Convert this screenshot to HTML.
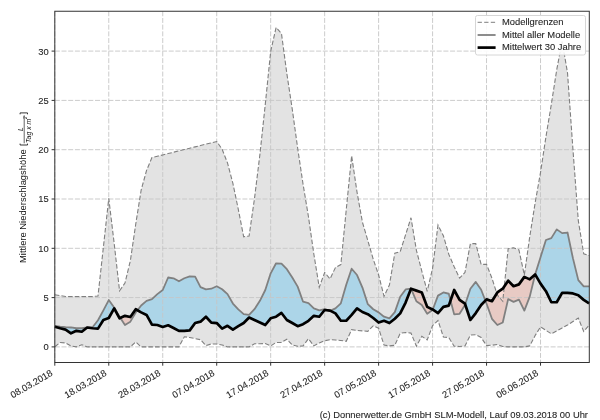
<!DOCTYPE html><html><head><meta charset="utf-8"><style>html,body{margin:0;padding:0;background:#fff;width:600px;height:420px;overflow:hidden}svg{display:block;will-change:transform}</style></head><body><svg width="600" height="420" viewBox="0 0 600 420">
<rect width="600" height="420" fill="#fff"/>
<polygon points="54.80,294.74 60.20,295.63 65.59,296.52 70.99,296.52 76.39,296.52 81.78,296.52 87.18,296.52 92.58,296.52 97.98,296.02 103.37,247.31 108.77,198.41 114.17,243.37 119.56,290.80 124.96,283.01 130.36,260.72 135.75,224.04 141.15,190.13 146.55,170.41 151.95,157.59 157.34,156.25 162.74,154.91 168.14,153.57 173.53,152.23 178.93,150.89 184.33,149.55 189.73,148.21 195.12,146.87 200.52,145.53 205.92,144.19 211.31,142.86 216.71,141.52 222.11,149.21 227.50,162.91 232.90,183.42 238.30,209.35 243.69,236.76 249.09,235.97 254.49,198.51 259.89,154.63 265.28,104.34 270.68,51.40 276.08,27.44 281.47,33.55 286.87,73.78 292.27,109.27 297.67,148.22 303.06,184.21 308.46,216.75 313.86,254.22 319.25,287.25 324.65,272.46 330.05,278.87 335.44,267.53 340.84,264.57 346.24,209.85 351.64,155.81 357.03,192.20 362.43,222.27 367.83,240.51 373.22,259.15 378.62,275.02 384.02,296.32 389.41,284.98 394.81,253.23 400.21,251.65 405.61,234.69 411.00,217.73 416.40,250.27 421.80,271.18 427.19,291.29 432.59,268.32 437.99,225.03 443.38,235.78 448.78,254.22 454.18,266.74 459.58,278.08 464.97,272.46 470.37,243.67 475.77,243.67 481.16,264.37 486.56,264.37 491.96,278.18 497.35,295.04 502.75,301.25 508.15,248.79 513.54,247.81 518.94,249.98 524.34,275.02 529.74,236.76 535.13,202.94 540.53,172.38 545.93,136.88 551.32,104.34 556.72,69.83 562.12,41.24 567.51,72.79 572.91,149.01 578.31,220.69 583.71,253.72 589.10,255.60 589.10,325.11 583.71,331.52 578.31,318.11 572.91,321.56 567.51,325.11 562.12,327.97 556.72,330.93 551.32,333.79 545.93,330.34 540.53,326.79 535.13,335.56 529.74,345.91 524.34,346.90 518.94,346.90 513.54,346.90 508.15,346.90 502.75,346.51 497.35,344.44 491.96,345.22 486.56,345.62 481.16,337.53 475.77,334.77 470.37,335.07 464.97,346.01 459.58,346.51 454.18,346.21 448.78,337.53 443.38,336.94 437.99,320.57 432.59,325.60 427.19,340.00 421.80,336.25 416.40,346.21 411.00,333.10 405.61,332.50 400.21,333.29 394.81,345.32 389.41,345.91 384.02,345.03 378.62,328.26 373.22,325.80 367.83,331.32 362.43,330.83 357.03,330.53 351.64,329.64 346.24,341.28 340.84,340.49 335.44,340.00 330.05,339.70 324.65,340.79 319.25,342.96 313.86,345.91 308.46,338.72 303.06,345.91 297.67,346.31 292.27,345.03 286.87,339.21 281.47,342.46 276.08,342.46 270.68,345.91 265.28,343.55 259.89,343.74 254.49,343.74 249.09,346.90 243.69,346.90 238.30,346.90 232.90,346.90 227.50,346.90 222.11,344.93 216.71,343.94 211.31,343.94 205.92,345.62 200.52,339.70 195.12,338.62 189.73,337.53 184.33,336.74 178.93,346.90 173.53,346.90 168.14,346.90 162.74,346.90 157.34,346.90 151.95,346.90 146.55,346.90 141.15,346.90 135.75,341.97 130.36,346.90 124.96,346.90 119.56,346.90 114.17,346.90 108.77,346.90 103.37,346.90 97.98,346.90 92.58,346.90 87.18,346.90 81.78,344.73 76.39,346.90 70.99,345.91 65.59,342.96 60.20,342.46 54.80,346.70" fill="#e3e3e3"/>
<polygon points="54.80,325.80 60.20,326.69 65.59,327.18 70.99,327.48 76.39,328.26 81.78,328.26 87.18,327.48 92.58,327.18 97.98,320.28 103.37,310.42 108.77,300.06 114.17,307.46 119.56,316.73 120.36,317.94 120.36,317.94 119.56,318.31 114.17,308.35 108.77,318.01 103.37,319.98 97.98,328.66 92.58,328.26 87.18,327.48 81.78,331.72 76.39,330.83 70.99,333.29 65.59,329.64 60.20,328.26 54.80,326.69" fill="#acd5e8"/>
<polygon points="120.36,317.94 124.96,325.01 130.36,321.66 135.75,312.49 137.48,310.25 137.48,310.25 135.75,309.23 130.36,317.02 124.96,315.84 120.36,317.94" fill="rgba(241,158,141,0.36)"/>
<polygon points="137.48,310.25 141.15,305.49 146.55,300.85 151.95,299.18 157.34,294.15 162.74,290.01 168.14,277.49 173.53,278.27 178.93,281.33 184.33,278.27 189.73,276.30 195.12,276.70 200.52,287.05 205.92,289.32 211.31,288.73 216.71,286.26 222.11,289.22 227.50,294.15 232.90,303.52 238.30,309.43 243.69,314.16 249.09,314.95 254.49,309.23 259.89,300.85 265.28,290.01 270.68,273.34 276.08,263.29 281.47,263.68 286.87,269.20 292.27,277.49 297.67,286.66 303.06,301.74 308.46,303.02 313.86,308.35 319.25,310.32 324.65,309.23 328.97,310.50 328.97,310.50 324.65,310.02 319.25,316.73 313.86,315.84 308.46,320.77 303.06,324.22 297.67,326.19 292.27,323.04 286.87,319.98 281.47,312.98 276.08,316.73 270.68,318.31 265.28,325.01 259.89,322.55 254.49,319.98 249.09,317.52 243.69,323.04 238.30,326.19 232.90,329.64 227.50,325.80 222.11,328.66 216.71,323.04 211.31,322.55 205.92,316.73 200.52,321.66 195.12,323.04 189.73,330.34 184.33,330.83 178.93,330.83 173.53,327.97 168.14,325.31 162.74,326.98 157.34,325.01 151.95,324.71 146.55,314.95 141.15,312.39 137.48,310.25" fill="#acd5e8"/>
<polygon points="328.97,310.50 330.05,310.81 330.25,310.72 330.25,310.72 330.05,310.62 328.97,310.50" fill="rgba(241,158,141,0.36)"/>
<polygon points="330.25,310.72 335.44,308.35 340.84,303.32 346.24,284.78 351.64,268.71 357.03,275.02 362.43,287.54 367.83,304.21 373.22,309.23 378.62,312.39 384.02,316.73 389.41,318.31 394.81,312.09 400.21,296.71 405.61,289.42 411.00,288.73 411.00,288.73 411.00,288.73 411.00,288.73 405.61,302.53 400.21,313.38 394.81,318.70 389.41,323.04 384.02,320.77 378.62,322.55 373.22,318.01 367.83,314.16 362.43,312.00 357.03,308.35 351.64,314.95 346.24,320.77 340.84,320.77 335.44,313.38 330.25,310.72" fill="#acd5e8"/>
<polygon points="411.00,288.73 416.40,301.25 421.80,305.00 427.19,313.77 432.59,310.02 432.77,309.55 432.77,309.55 432.59,309.43 427.19,306.87 421.80,292.47 416.40,290.60 411.00,288.73" fill="rgba(241,158,141,0.36)"/>
<polygon points="432.77,309.55 437.99,295.63 443.38,292.47 448.78,293.75 450.55,300.49 450.55,300.49 448.78,305.59 443.38,306.87 437.99,313.08 432.77,309.55" fill="#acd5e8"/>
<polygon points="450.55,300.49 454.18,314.36 459.58,313.77 464.97,305.00 465.18,304.35 465.18,304.35 464.97,303.71 459.58,299.97 454.18,290.01 450.55,300.49" fill="rgba(241,158,141,0.36)"/>
<polygon points="465.18,304.35 470.37,288.73 475.77,281.92 481.16,289.71 485.37,300.62 485.37,300.62 481.16,305.00 475.77,313.08 470.37,319.98 465.18,304.35" fill="#acd5e8"/>
<polygon points="485.37,300.62 486.56,303.71 491.96,318.80 497.35,325.01 502.75,322.55 508.15,299.08 513.54,301.84 518.94,299.57 524.34,310.62 529.74,296.61 535.13,274.43 535.13,274.43 529.74,279.36 524.34,276.89 518.94,284.39 513.54,286.26 508.15,280.64 502.75,288.73 497.35,292.47 491.96,301.25 486.56,299.37 485.37,300.62" fill="rgba(241,158,141,0.36)"/>
<polygon points="535.13,274.43 535.13,274.43 540.53,257.17 545.93,240.02 551.32,238.14 556.72,229.37 562.12,233.12 567.51,232.52 572.91,258.16 578.31,280.15 583.71,286.46 589.10,286.46 589.10,303.42 583.71,299.87 578.31,295.23 572.91,293.46 567.51,292.87 562.12,292.87 556.72,302.23 551.32,302.23 545.93,291.19 540.53,283.60 535.13,274.43 535.13,274.43" fill="#acd5e8"/>
<g stroke="#c6c6c6" stroke-width="1" stroke-dasharray="5 1.7" opacity="0.9"><line x1="54.80" y1="11.25" x2="54.80" y2="362.5"/><line x1="108.77" y1="11.25" x2="108.77" y2="362.5"/><line x1="162.74" y1="11.25" x2="162.74" y2="362.5"/><line x1="216.71" y1="11.25" x2="216.71" y2="362.5"/><line x1="270.68" y1="11.25" x2="270.68" y2="362.5"/><line x1="324.65" y1="11.25" x2="324.65" y2="362.5"/><line x1="378.62" y1="11.25" x2="378.62" y2="362.5"/><line x1="432.59" y1="11.25" x2="432.59" y2="362.5"/><line x1="486.56" y1="11.25" x2="486.56" y2="362.5"/><line x1="540.53" y1="11.25" x2="540.53" y2="362.5"/><line x1="54.8" y1="346.90" x2="589.3" y2="346.90"/><line x1="54.8" y1="297.60" x2="589.3" y2="297.60"/><line x1="54.8" y1="248.30" x2="589.3" y2="248.30"/><line x1="54.8" y1="199.00" x2="589.3" y2="199.00"/><line x1="54.8" y1="149.70" x2="589.3" y2="149.70"/><line x1="54.8" y1="100.40" x2="589.3" y2="100.40"/><line x1="54.8" y1="51.10" x2="589.3" y2="51.10"/></g>
<polyline points="54.80,294.74 60.20,295.63 65.59,296.52 70.99,296.52 76.39,296.52 81.78,296.52 87.18,296.52 92.58,296.52 97.98,296.02 103.37,247.31 108.77,198.41 114.17,243.37 119.56,290.80 124.96,283.01 130.36,260.72 135.75,224.04 141.15,190.13 146.55,170.41 151.95,157.59 157.34,156.25 162.74,154.91 168.14,153.57 173.53,152.23 178.93,150.89 184.33,149.55 189.73,148.21 195.12,146.87 200.52,145.53 205.92,144.19 211.31,142.86 216.71,141.52 222.11,149.21 227.50,162.91 232.90,183.42 238.30,209.35 243.69,236.76 249.09,235.97 254.49,198.51 259.89,154.63 265.28,104.34 270.68,51.40 276.08,27.44 281.47,33.55 286.87,73.78 292.27,109.27 297.67,148.22 303.06,184.21 308.46,216.75 313.86,254.22 319.25,287.25 324.65,272.46 330.05,278.87 335.44,267.53 340.84,264.57 346.24,209.85 351.64,155.81 357.03,192.20 362.43,222.27 367.83,240.51 373.22,259.15 378.62,275.02 384.02,296.32 389.41,284.98 394.81,253.23 400.21,251.65 405.61,234.69 411.00,217.73 416.40,250.27 421.80,271.18 427.19,291.29 432.59,268.32 437.99,225.03 443.38,235.78 448.78,254.22 454.18,266.74 459.58,278.08 464.97,272.46 470.37,243.67 475.77,243.67 481.16,264.37 486.56,264.37 491.96,278.18 497.35,295.04 502.75,301.25 508.15,248.79 513.54,247.81 518.94,249.98 524.34,275.02 529.74,236.76 535.13,202.94 540.53,172.38 545.93,136.88 551.32,104.34 556.72,69.83 562.12,41.24 567.51,72.79 572.91,149.01 578.31,220.69 583.71,253.72 589.10,255.60" fill="none" stroke="#7f7f7f" stroke-width="1.1" stroke-dasharray="4.6 2.1"/>
<polyline points="54.80,346.70 60.20,342.46 65.59,342.96 70.99,345.91 76.39,346.90 81.78,344.73 87.18,346.90 92.58,346.90 97.98,346.90 103.37,346.90 108.77,346.90 114.17,346.90 119.56,346.90 124.96,346.90 130.36,346.90 135.75,341.97 141.15,346.90 146.55,346.90 151.95,346.90 157.34,346.90 162.74,346.90 168.14,346.90 173.53,346.90 178.93,346.90 184.33,336.74 189.73,337.53 195.12,338.62 200.52,339.70 205.92,345.62 211.31,343.94 216.71,343.94 222.11,344.93 227.50,346.90 232.90,346.90 238.30,346.90 243.69,346.90 249.09,346.90 254.49,343.74 259.89,343.74 265.28,343.55 270.68,345.91 276.08,342.46 281.47,342.46 286.87,339.21 292.27,345.03 297.67,346.31 303.06,345.91 308.46,338.72 313.86,345.91 319.25,342.96 324.65,340.79 330.05,339.70 335.44,340.00 340.84,340.49 346.24,341.28 351.64,329.64 357.03,330.53 362.43,330.83 367.83,331.32 373.22,325.80 378.62,328.26 384.02,345.03 389.41,345.91 394.81,345.32 400.21,333.29 405.61,332.50 411.00,333.10 416.40,346.21 421.80,336.25 427.19,340.00 432.59,325.60 437.99,320.57 443.38,336.94 448.78,337.53 454.18,346.21 459.58,346.51 464.97,346.01 470.37,335.07 475.77,334.77 481.16,337.53 486.56,345.62 491.96,345.22 497.35,344.44 502.75,346.51 508.15,346.90 513.54,346.90 518.94,346.90 524.34,346.90 529.74,345.91 535.13,335.56 540.53,326.79 545.93,330.34 551.32,333.79 556.72,330.93 562.12,327.97 567.51,325.11 572.91,321.56 578.31,318.11 583.71,331.52 589.10,325.11" fill="none" stroke="#7f7f7f" stroke-width="1.1" stroke-dasharray="4.6 2.1"/>
<polyline points="54.80,325.80 60.20,326.69 65.59,327.18 70.99,327.48 76.39,328.26 81.78,328.26 87.18,327.48 92.58,327.18 97.98,320.28 103.37,310.42 108.77,300.06 114.17,307.46 119.56,316.73 124.96,325.01 130.36,321.66 135.75,312.49 141.15,305.49 146.55,300.85 151.95,299.18 157.34,294.15 162.74,290.01 168.14,277.49 173.53,278.27 178.93,281.33 184.33,278.27 189.73,276.30 195.12,276.70 200.52,287.05 205.92,289.32 211.31,288.73 216.71,286.26 222.11,289.22 227.50,294.15 232.90,303.52 238.30,309.43 243.69,314.16 249.09,314.95 254.49,309.23 259.89,300.85 265.28,290.01 270.68,273.34 276.08,263.29 281.47,263.68 286.87,269.20 292.27,277.49 297.67,286.66 303.06,301.74 308.46,303.02 313.86,308.35 319.25,310.32 324.65,309.23 330.05,310.81 335.44,308.35 340.84,303.32 346.24,284.78 351.64,268.71 357.03,275.02 362.43,287.54 367.83,304.21 373.22,309.23 378.62,312.39 384.02,316.73 389.41,318.31 394.81,312.09 400.21,296.71 405.61,289.42 411.00,288.73 416.40,301.25 421.80,305.00 427.19,313.77 432.59,310.02 437.99,295.63 443.38,292.47 448.78,293.75 454.18,314.36 459.58,313.77 464.97,305.00 470.37,288.73 475.77,281.92 481.16,289.71 486.56,303.71 491.96,318.80 497.35,325.01 502.75,322.55 508.15,299.08 513.54,301.84 518.94,299.57 524.34,310.62 529.74,296.61 535.13,274.43 540.53,257.17 545.93,240.02 551.32,238.14 556.72,229.37 562.12,233.12 567.51,232.52 572.91,258.16 578.31,280.15 583.71,286.46 589.10,286.46" fill="none" stroke="#808080" stroke-width="1.8" stroke-linejoin="round"/>
<polyline points="54.80,326.69 60.20,328.26 65.59,329.64 70.99,333.29 76.39,330.83 81.78,331.72 87.18,327.48 92.58,328.26 97.98,328.66 103.37,319.98 108.77,318.01 114.17,308.35 119.56,318.31 124.96,315.84 130.36,317.02 135.75,309.23 141.15,312.39 146.55,314.95 151.95,324.71 157.34,325.01 162.74,326.98 168.14,325.31 173.53,327.97 178.93,330.83 184.33,330.83 189.73,330.34 195.12,323.04 200.52,321.66 205.92,316.73 211.31,322.55 216.71,323.04 222.11,328.66 227.50,325.80 232.90,329.64 238.30,326.19 243.69,323.04 249.09,317.52 254.49,319.98 259.89,322.55 265.28,325.01 270.68,318.31 276.08,316.73 281.47,312.98 286.87,319.98 292.27,323.04 297.67,326.19 303.06,324.22 308.46,320.77 313.86,315.84 319.25,316.73 324.65,310.02 330.05,310.62 335.44,313.38 340.84,320.77 346.24,320.77 351.64,314.95 357.03,308.35 362.43,312.00 367.83,314.16 373.22,318.01 378.62,322.55 384.02,320.77 389.41,323.04 394.81,318.70 400.21,313.38 405.61,302.53 411.00,288.73 416.40,290.60 421.80,292.47 427.19,306.87 432.59,309.43 437.99,313.08 443.38,306.87 448.78,305.59 454.18,290.01 459.58,299.97 464.97,303.71 470.37,319.98 475.77,313.08 481.16,305.00 486.56,299.37 491.96,301.25 497.35,292.47 502.75,288.73 508.15,280.64 513.54,286.26 518.94,284.39 524.34,276.89 529.74,279.36 535.13,274.43 540.53,283.60 545.93,291.19 551.32,302.23 556.72,302.23 562.12,292.87 567.51,292.87 572.91,293.46 578.31,295.23 583.71,299.87 589.10,303.42" fill="none" stroke="#000" stroke-width="2.7" stroke-linejoin="round"/>
<rect x="54.8" y="11.25" width="534.50" height="351.25" fill="none" stroke="#333" stroke-width="1"/>
<g stroke="#333" stroke-width="1"><line x1="51.60" y1="346.90" x2="54.8" y2="346.90"/><line x1="51.60" y1="297.60" x2="54.8" y2="297.60"/><line x1="51.60" y1="248.30" x2="54.8" y2="248.30"/><line x1="51.60" y1="199.00" x2="54.8" y2="199.00"/><line x1="51.60" y1="149.70" x2="54.8" y2="149.70"/><line x1="51.60" y1="100.40" x2="54.8" y2="100.40"/><line x1="51.60" y1="51.10" x2="54.8" y2="51.10"/><line x1="54.80" y1="362.5" x2="54.80" y2="365.70"/><line x1="108.77" y1="362.5" x2="108.77" y2="365.70"/><line x1="162.74" y1="362.5" x2="162.74" y2="365.70"/><line x1="216.71" y1="362.5" x2="216.71" y2="365.70"/><line x1="270.68" y1="362.5" x2="270.68" y2="365.70"/><line x1="324.65" y1="362.5" x2="324.65" y2="365.70"/><line x1="378.62" y1="362.5" x2="378.62" y2="365.70"/><line x1="432.59" y1="362.5" x2="432.59" y2="365.70"/><line x1="486.56" y1="362.5" x2="486.56" y2="365.70"/><line x1="540.53" y1="362.5" x2="540.53" y2="365.70"/></g>
<g font-family="Liberation Sans, sans-serif" font-size="9.4" fill="#262626" stroke="#262626" stroke-width="0.1"><text x="48.8" y="350.30" text-anchor="end">0</text><text x="48.8" y="301.00" text-anchor="end">5</text><text x="48.8" y="251.70" text-anchor="end">10</text><text x="48.8" y="202.40" text-anchor="end">15</text><text x="48.8" y="153.10" text-anchor="end">20</text><text x="48.8" y="103.80" text-anchor="end">25</text><text x="48.8" y="54.50" text-anchor="end">30</text></g>
<g font-family="Liberation Sans, sans-serif" font-size="9.4" fill="#262626" stroke="#262626" stroke-width="0.1"><text transform="translate(53.30,375.00) rotate(-30)" text-anchor="end">08.03.2018</text><text transform="translate(107.27,375.00) rotate(-30)" text-anchor="end">18.03.2018</text><text transform="translate(161.24,375.00) rotate(-30)" text-anchor="end">28.03.2018</text><text transform="translate(215.21,375.00) rotate(-30)" text-anchor="end">07.04.2018</text><text transform="translate(269.18,375.00) rotate(-30)" text-anchor="end">17.04.2018</text><text transform="translate(323.15,375.00) rotate(-30)" text-anchor="end">27.04.2018</text><text transform="translate(377.12,375.00) rotate(-30)" text-anchor="end">07.05.2018</text><text transform="translate(431.09,375.00) rotate(-30)" text-anchor="end">17.05.2018</text><text transform="translate(485.06,375.00) rotate(-30)" text-anchor="end">27.05.2018</text><text transform="translate(539.03,375.00) rotate(-30)" text-anchor="end">06.06.2018</text></g>
<g transform="translate(26.0,263) rotate(-90)" font-family="Liberation Sans, sans-serif" fill="#111"><text x="0" y="0" font-size="9.4">Mittlere Niederschlagshöhe</text><text x="132.0" y="-3.0" font-size="6.6" font-style="italic">L</text><line x1="119.7" y1="-1.8" x2="147.7" y2="-1.8" stroke="#222" stroke-width="0.7"/><text x="120.0" y="5.0" font-size="6.9" font-style="italic">Tag x m</text><text x="143.9" y="1.2" font-size="4.6" font-style="italic">2</text></g>
<path d="M20.1,143.6 L20.1,145 L27.5,145 L27.5,143.6 M20.1,114.3 L20.1,112.9 L27.5,112.9 L27.5,114.3" fill="none" stroke="#222" stroke-width="0.9"/>
<rect x="475.5" y="15.5" width="110" height="39.5" rx="2" fill="#fff" fill-opacity="0.88" stroke="#d6d6d6" stroke-width="1"/>
<line x1="477.6" y1="22.3" x2="495.6" y2="22.3" stroke="#7f7f7f" stroke-width="1" stroke-dasharray="4.3 2.3"/>
<line x1="477.6" y1="35" x2="495.6" y2="35" stroke="#808080" stroke-width="1.8"/>
<line x1="477.6" y1="47.6" x2="495.6" y2="47.6" stroke="#000" stroke-width="2.7"/>
<g font-family="Liberation Sans, sans-serif" font-size="9.4" fill="#262626" stroke="#262626" stroke-width="0.1"><text x="502" y="24.9">Modellgrenzen</text><text x="502" y="37.7">Mittel aller Modelle</text><text x="502" y="50.3">Mittelwert 30 Jahre</text></g>
<text x="588" y="418" text-anchor="end" font-family="Liberation Sans, sans-serif" font-size="9.4" fill="#262626" stroke="#262626" stroke-width="0.1">(c) Donnerwetter.de GmbH SLM-Modell, Lauf 09.03.2018 00 Uhr</text>
</svg></body></html>
